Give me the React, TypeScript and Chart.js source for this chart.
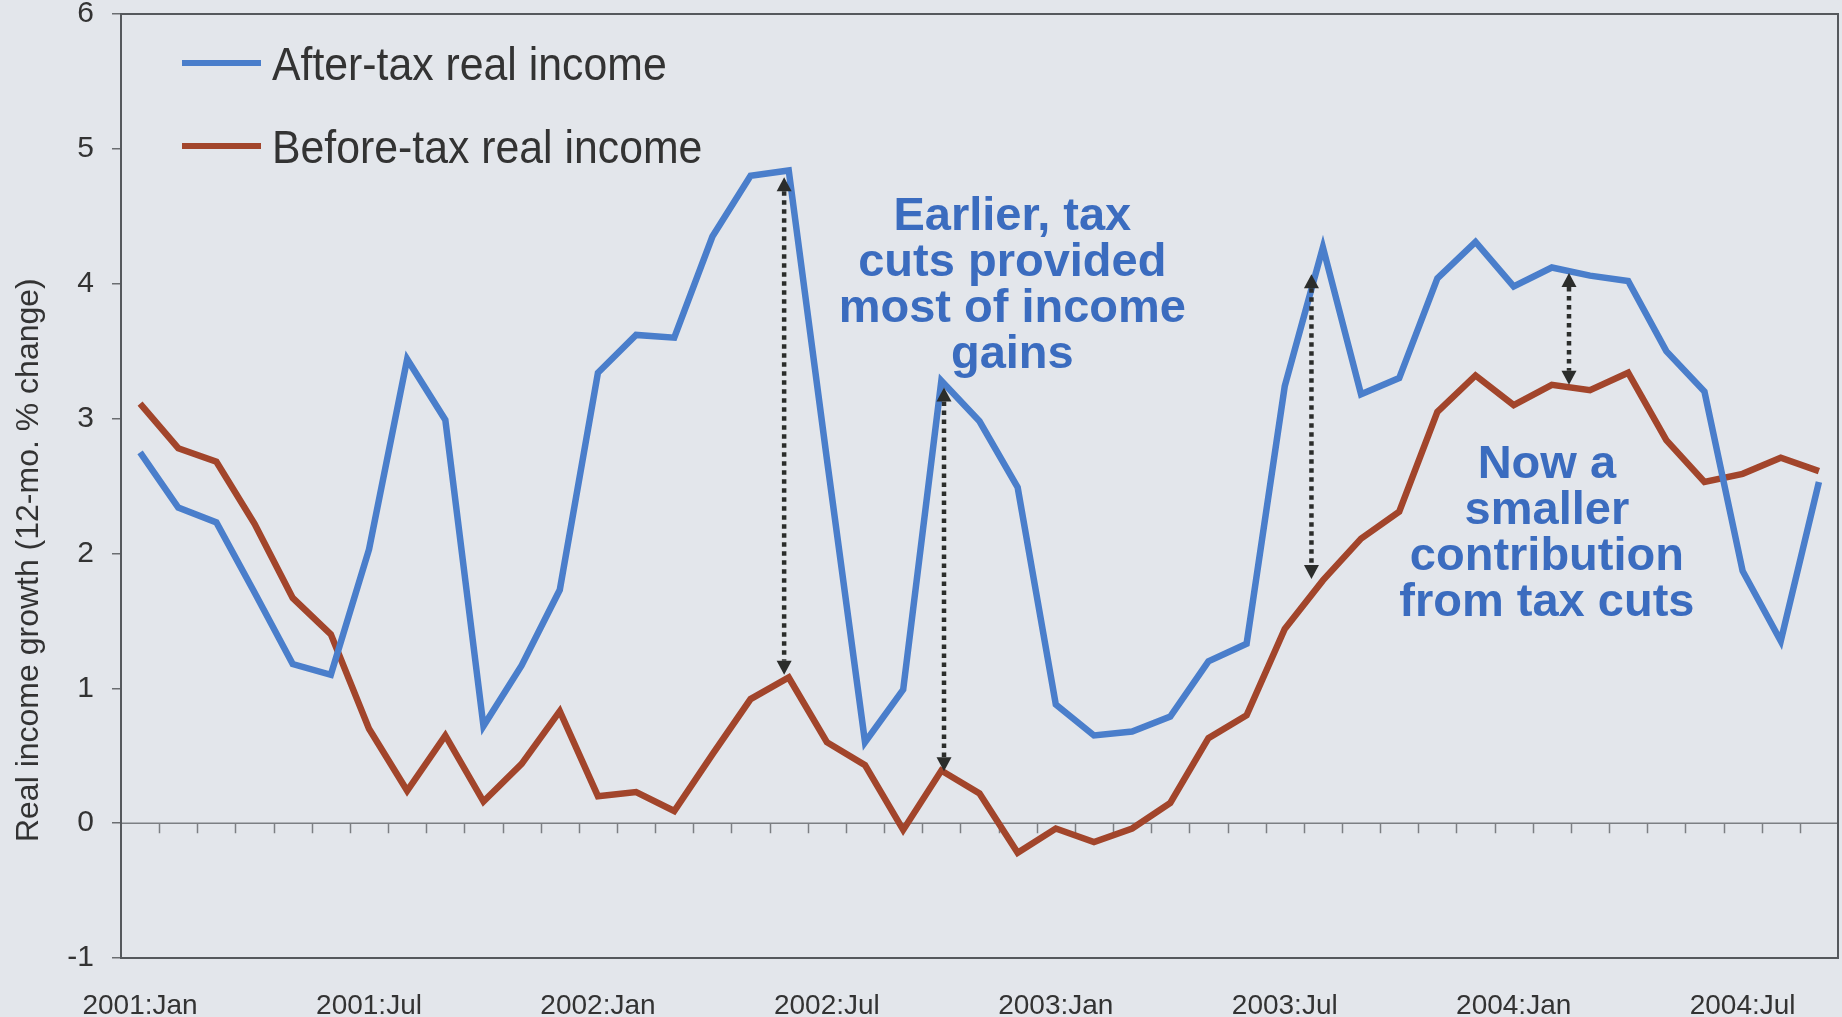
import React, { useEffect, useRef } from "react";
import { Chart, registerables } from "chart.js";

Chart.register(...registerables);

// ---------- data ----------
const categories: string[] = [
  "2001:Jan", "2001:Feb", "2001:Mar", "2001:Apr", "2001:May", "2001:Jun",
  "2001:Jul", "2001:Aug", "2001:Sep", "2001:Oct", "2001:Nov", "2001:Dec",
  "2002:Jan", "2002:Feb", "2002:Mar", "2002:Apr", "2002:May", "2002:Jun",
  "2002:Jul", "2002:Aug", "2002:Sep", "2002:Oct", "2002:Nov", "2002:Dec",
  "2003:Jan", "2003:Feb", "2003:Mar", "2003:Apr", "2003:May", "2003:Jun",
  "2003:Jul", "2003:Aug", "2003:Sep", "2003:Oct", "2003:Nov", "2003:Dec",
  "2004:Jan", "2004:Feb", "2004:Mar", "2004:Apr", "2004:May", "2004:Jun",
  "2004:Jul", "2004:Aug", "2004:Sep",
];

const afterTax: number[] = [
  2.75, 2.34, 2.23, 1.71, 1.18, 1.10, 2.03, 3.44, 2.99, 0.72, 1.17, 1.73,
  3.34, 3.62, 3.60, 4.35, 4.80, 4.84, 2.70, 0.60, 0.99, 3.28, 2.98, 2.49,
  0.88, 0.65, 0.68, 0.79, 1.20, 1.33, 3.24, 4.27, 3.18, 3.30, 4.04, 4.31,
  3.98, 4.12, 4.06, 4.02, 3.50, 3.20, 1.87, 1.35, 2.53,
];

const beforeTax: number[] = [
  3.11, 2.78, 2.68, 2.22, 1.67, 1.40, 0.70, 0.24, 0.65, 0.16, 0.44, 0.83,
  0.20, 0.23, 0.09, 0.51, 0.92, 1.08, 0.60, 0.43, -0.05, 0.39, 0.22, -0.22,
  -0.04, -0.14, -0.04, 0.15, 0.63, 0.80, 1.44, 1.80, 2.11, 2.31, 3.05, 3.32,
  3.10, 3.25, 3.21, 3.34, 2.84, 2.53, 2.59, 2.71, 2.61,
];

const seriesNames: string[] = ["After-tax real income", "Before-tax real income"];

// double-headed arrows: category position, upper value, lower value
const arrowAt: number[] = [16.88, 21.07, 30.7, 37.45];
const arrowTop: number[] = [4.79, 3.23, 4.07, 4.08];
const arrowBottom: number[] = [1.1, 0.385, 1.81, 3.25];

const noteEarlier: string[] = ["Earlier, tax", "cuts provided", "most of income", "gains"];
const noteNow: string[] = ["Now a", "smaller", "contribution", "from tax cuts"];

const yTitle = "Real income growth (12-mo. % change)";

// ---------- styles ----------
const BG = "#e3e6eb";
const BLUE = "#4a7ecb";
const BROWN = "#a2452b";
const NOTE_BLUE = "#3b6cbf";
const TEXT = "#333333";
const FONT = "'Liberation Sans', Arial, sans-serif";

const decorPlugin = {
  id: "decor",
  beforeDraw(chart: any) {
    const { ctx, width, height } = chart;
    ctx.save();
    ctx.fillStyle = BG;
    ctx.fillRect(0, 0, width, height);
    ctx.restore();
  },
  beforeDatasetsDraw(chart: any) {
    const { ctx, chartArea: a, scales } = chart;
    const x = scales.x;
    const y = scales.y;
    ctx.save();
    const y0 = y.getPixelForValue(0);
    ctx.strokeStyle = "#7c7f83";
    ctx.lineWidth = 1.5;
    ctx.beginPath();
    ctx.moveTo(a.left, y0);
    ctx.lineTo(a.right, y0);
    for (let i = 1; i < categories.length; i++) {
      const px = Math.round(x.getPixelForValue(i - 0.5)) + 0.5;
      ctx.moveTo(px, y0);
      ctx.lineTo(px, y0 + 10);
    }
    ctx.stroke();
    ctx.strokeStyle = "#55585c";
    ctx.lineWidth = 2;
    ctx.strokeRect(a.left, a.top, a.right - a.left, a.bottom - a.top);
    ctx.restore();
  },
  afterDatasetsDraw(chart: any) {
    const { ctx, chartArea: a, scales } = chart;
    const x = scales.x;
    const y = scales.y;
    ctx.save();

    // arrows
    const head = 14;
    const half = 7.5;
    for (let k = 0; k < arrowAt.length; k++) {
      const px = x.getPixelForValue(arrowAt[k]);
      const yt = y.getPixelForValue(arrowTop[k]);
      const yb = y.getPixelForValue(arrowBottom[k]);
      ctx.strokeStyle = "#2b2d2b";
      ctx.lineWidth = 4.5;
      ctx.setLineDash([4.5, 4.5]);
      ctx.beginPath();
      ctx.moveTo(px, yt + head);
      ctx.lineTo(px, yb - head);
      ctx.stroke();
      ctx.setLineDash([]);
      ctx.fillStyle = "#2b2d2b";
      ctx.beginPath();
      ctx.moveTo(px, yt);
      ctx.lineTo(px - half, yt + head);
      ctx.lineTo(px + half, yt + head);
      ctx.closePath();
      ctx.fill();
      ctx.beginPath();
      ctx.moveTo(px, yb);
      ctx.lineTo(px - half, yb - head);
      ctx.lineTo(px + half, yb - head);
      ctx.closePath();
      ctx.fill();
    }

    // annotations
    ctx.fillStyle = NOTE_BLUE;
    ctx.font = `bold 47px ${FONT}`;
    ctx.textAlign = "center";
    ctx.textBaseline = "alphabetic";
    const lh = 46;
    const ex = x.getPixelForValue(22.86);
    const ey = y.getPixelForValue(4.42) + 3;
    noteEarlier.forEach((t, i) => ctx.fillText(t, ex, ey + i * lh));
    const nx = x.getPixelForValue(36.87);
    const ny = y.getPixelForValue(2.58) + 3;
    noteNow.forEach((t, i) => ctx.fillText(t, nx, ny + i * lh));

    // legend
    const colors = [BLUE, BROWN];
    const rowY = [a.top + 49, a.top + 132];
    seriesNames.forEach((name, i) => {
      ctx.strokeStyle = colors[i];
      ctx.lineWidth = 6;
      ctx.beginPath();
      ctx.moveTo(a.left + 61, rowY[i]);
      ctx.lineTo(a.left + 140, rowY[i]);
      ctx.stroke();
      ctx.save();
      ctx.translate(a.left + 151, rowY[i] + 16.5);
      ctx.scale(0.93, 1);
      ctx.fillStyle = TEXT;
      ctx.font = `46px ${FONT}`;
      ctx.textAlign = "left";
      ctx.textBaseline = "alphabetic";
      ctx.fillText(name, 0, 0);
      ctx.restore();
    });

    ctx.restore();
  },
  afterDraw(chart: any) {
    const { ctx, scales } = chart;
    const y = scales.y;
    ctx.save();
    ctx.translate(29, y.getPixelForValue(1.95));
    ctx.rotate(-Math.PI / 2);
    ctx.fillStyle = TEXT;
    ctx.font = `32px ${FONT}`;
    ctx.textAlign = "center";
    ctx.textBaseline = "middle";
    ctx.fillText(yTitle, 0, 0);
    ctx.restore();
  },
};

export default function App() {
  const ref = useRef<HTMLCanvasElement>(null);

  useEffect(() => {
    document.body.style.margin = "0";
    document.body.style.background = BG;
    const canvas = ref.current;
    if (!canvas) return;
    const chart = new Chart(canvas, {
      type: "line",
      data: {
        labels: categories,
        datasets: [
          {
            label: seriesNames[0],
            data: afterTax,
            borderColor: BLUE,
            backgroundColor: BLUE,
            borderWidth: 6.5,
            pointRadius: 0,
            tension: 0,
            fill: false,
          },
          {
            label: seriesNames[1],
            data: beforeTax,
            borderColor: BROWN,
            backgroundColor: BROWN,
            borderWidth: 6.5,
            pointRadius: 0,
            tension: 0,
            fill: false,
          },
        ],
      },
      options: {
        animation: false,
        responsive: false,
        maintainAspectRatio: false,
        layout: { padding: { top: 14, right: 4, left: 0, bottom: 0 } },
        plugins: {
          legend: { display: false },
          tooltip: { enabled: false },
          title: { display: false },
        },
        scales: {
          x: {
            type: "category",
            offset: true,
            grid: { display: false, drawTicks: false },
            border: { display: false },
            ticks: {
              autoSkip: false,
              maxRotation: 0,
              minRotation: 0,
              padding: 31,
              color: TEXT,
              font: { family: FONT, size: 28 },
              callback: (_v: any, i: number) => (i % 6 === 0 ? categories[i] : ""),
            },
            afterFit: (s: any) => {
              s.height = 59;
              s.paddingLeft = 0;
              s.paddingRight = 0;
            },
          },
          y: {
            min: -1,
            max: 6,
            ticks: {
              stepSize: 1,
              padding: 18,
              color: TEXT,
              font: { family: FONT, size: 30 },
            },
            grid: {
              drawOnChartArea: false,
              drawTicks: true,
              tickLength: 9,
              color: "#6a6d70",
              lineWidth: 1.5,
            },
            border: { display: false },
            afterFit: (s: any) => {
              s.width = 121;
              s.paddingTop = 0;
              s.paddingBottom = 0;
            },
          },
        },
      },
      plugins: [decorPlugin],
    });
    return () => chart.destroy();
  }, []);

  return (
    <canvas
      ref={ref}
      width={1842}
      height={1017}
      style={{ display: "block", width: 1842, height: 1017 }}
    />
  );
}
